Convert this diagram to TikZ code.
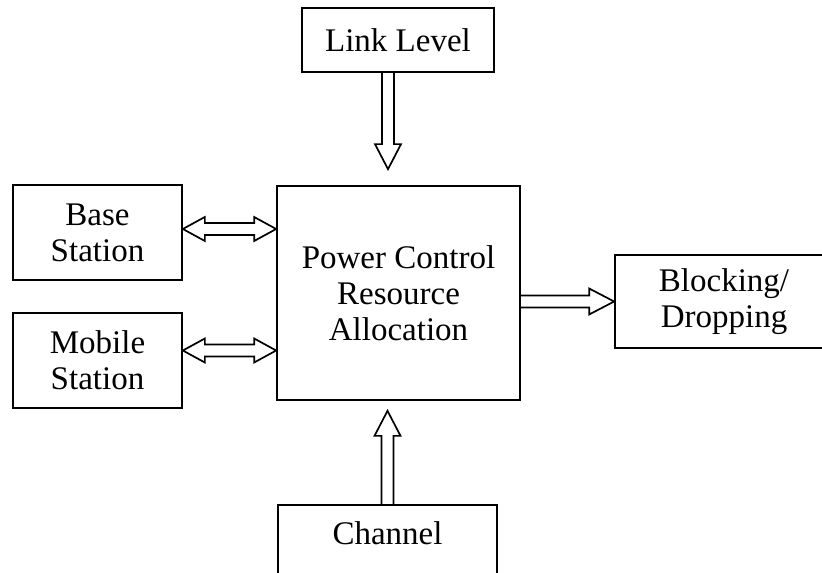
\documentclass[tikz,border=0pt]{standalone}
\usepackage{fontspec}
\setmainfont{Liberation Serif}
\usetikzlibrary{calc}

\tikzset{
  box/.style={draw, line width=0.85pt, align=center, inner sep=0pt,
    font=\fontsize{16.5}{18}\selectfont},
  hollow/.style={draw, line width=0.85pt, line join=miter, to path={
    ($(\tikztostart)!3pt!90:(\tikztotarget)$)
    -- ($($(\tikztotarget)!12.5pt!(\tikztostart)$)!3pt!90:(\tikztotarget)$)
    -- ($($(\tikztotarget)!12.5pt!(\tikztostart)$)!6.5pt!90:(\tikztotarget)$)
    -- (\tikztotarget)
    -- ($($(\tikztotarget)!12.5pt!(\tikztostart)$)!6.5pt!-90:(\tikztotarget)$)
    -- ($($(\tikztotarget)!12.5pt!(\tikztostart)$)!3pt!-90:(\tikztotarget)$)
    -- ($(\tikztostart)!3pt!-90:(\tikztotarget)$)}},
  hollowboth/.style={draw, line width=0.85pt, line join=miter, to path={
    (\tikztostart)
    -- ($($(\tikztostart)!11pt!(\tikztotarget)$)!6pt!90:(\tikztotarget)$)
    -- ($($(\tikztostart)!11pt!(\tikztotarget)$)!3pt!90:(\tikztotarget)$)
    -- ($($(\tikztotarget)!11pt!(\tikztostart)$)!3pt!90:(\tikztotarget)$)
    -- ($($(\tikztotarget)!11pt!(\tikztostart)$)!6pt!90:(\tikztotarget)$)
    -- (\tikztotarget)
    -- ($($(\tikztotarget)!11pt!(\tikztostart)$)!6pt!-90:(\tikztotarget)$)
    -- ($($(\tikztotarget)!11pt!(\tikztostart)$)!3pt!-90:(\tikztotarget)$)
    -- ($($(\tikztostart)!11pt!(\tikztotarget)$)!3pt!-90:(\tikztotarget)$)
    -- ($($(\tikztostart)!11pt!(\tikztotarget)$)!6pt!-90:(\tikztotarget)$)
    -- cycle}}
}

\begin{document}
\begin{tikzpicture}[x=0.5pt, y=0.5pt]
\clip (0,0) rectangle (822,572);

% blocks
\node[box, minimum width=96pt, minimum height=32pt] (ll) at (398,532) {Link Level};
\node[box, minimum width=121.5pt, minimum height=107pt] (pc) at (398.5,279)
    {Power Control\\Resource\\Allocation};
\node[box, minimum width=84.5pt, minimum height=47.5pt] (bs) at (97.5,339.5) {Base\\Station};
\node[box, minimum width=84.5pt, minimum height=47.5pt] (ms) at (97.5,211.5) {Mobile\\Station};
\node[box, minimum width=109pt, minimum height=46.5pt] (bd) at (724,270.5) {Blocking/\\Dropping};
\node[box, anchor=north, minimum width=109.5pt, text height=20pt, text depth=32pt]
    (ch) at (387.5,68) {Channel};

% arrow ends
\coordinate (llA) at ($(ll.south)+(-10,0)$);
\coordinate (llB) at ($(pc.north)+(-10.5,16)$);
\coordinate (chB) at ($(ch.north |- pc.south)+(0,-10)$);
\coordinate (bsA) at ($(bs.east)+(0,3.5)$);
\coordinate (bsB) at (bsA -| pc.west);
\coordinate (msA) at ($(ms.east)+(0,10)$);
\coordinate (msB) at (msA -| pc.west);
\coordinate (bdA) at (pc.east |- bd.west);

% arrows
\draw[hollow] (llA) to (llB);
\draw[hollow] (ch.north) to (chB);
\draw[hollow] (bdA) to (bd.west);
\draw[hollowboth] (bsA) to (bsB);
\draw[hollowboth] (msA) to (msB);
\end{tikzpicture}
\end{document}
